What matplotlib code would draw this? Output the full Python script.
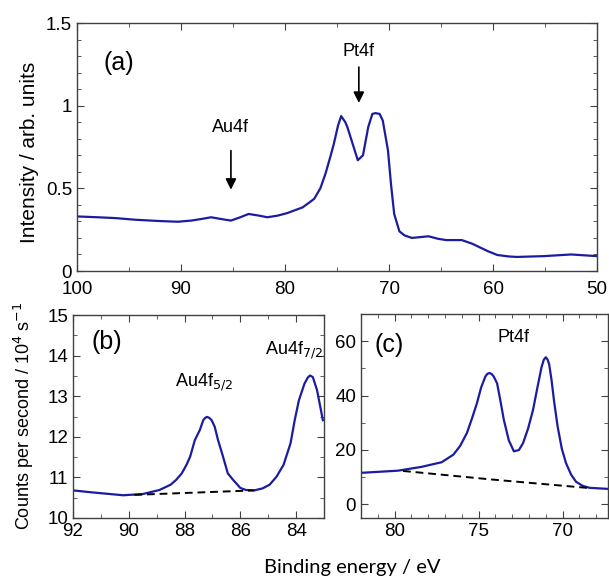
import matplotlib.pyplot as plt
import matplotlib
from matplotlib.ticker import MultipleLocator, FuncFormatter

matplotlib.rcParams.update({
    'font.family': ['Liberation Sans', 'DejaVu Sans'],
    'font.size': 13.5,
    'axes.linewidth': 1.0,
    'axes.edgecolor': '#404040',
    'xtick.direction': 'in',
    'ytick.direction': 'in',
    'xtick.top': True,
    'ytick.right': True,
    'xtick.major.size': 5,
    'ytick.major.size': 5,
    'xtick.minor.size': 3,
    'ytick.minor.size': 3,
    'xtick.color': '#404040',
    'ytick.color': '#404040',
    'xtick.labelcolor': 'black',
    'ytick.labelcolor': 'black',
})

# (a) survey spectrum
energy_a = [100, 98, 96.3, 94.4, 92, 90.3, 89, 88, 87.1, 86.2,
            85.2, 84.3, 83.5, 82.5, 81.7, 80.7, 79.8, 78.3, 77.2, 76.6,
            76.1, 75.6, 75.3, 74.9, 74.6, 74.2, 74.0, 73.4, 73.0, 72.5,
            72.0, 71.6, 71.3, 70.9, 70.6, 70.1, 69.8, 69.5, 69.0, 68.5,
            67.8, 67.0, 66.2, 65.3, 64.5, 63.0, 62.0, 61.5, 60.5, 59.6,
            58.5, 57.7, 55.1, 52.5, 50]
intensity_a = [0.33, 0.325, 0.32, 0.31, 0.302, 0.298, 0.305, 0.315, 0.325, 0.315,
               0.305, 0.325, 0.345, 0.335, 0.325, 0.335, 0.35, 0.385, 0.436, 0.5,
               0.59, 0.7, 0.77, 0.88, 0.937, 0.9, 0.87, 0.75, 0.67, 0.70,
               0.87, 0.95, 0.955, 0.95, 0.91, 0.73, 0.52, 0.345, 0.24, 0.215,
               0.20, 0.205, 0.21, 0.195, 0.187, 0.187, 0.165, 0.15, 0.12, 0.097,
               0.088, 0.085, 0.09, 0.10, 0.09]

# (b) Au4f region
energy_b = [92.0, 91.3, 90.2, 89.5, 88.9, 88.5, 88.3, 88.1, 87.93, 87.8,
            87.63, 87.45, 87.33, 87.27, 87.2, 87.12, 87.03, 86.92, 86.8, 86.62,
            86.45, 86.26, 86.0, 85.8, 85.5, 85.2, 84.95, 84.7, 84.45, 84.2,
            84.05, 83.9, 83.7, 83.58, 83.5, 83.4, 83.25, 83.04]
counts_b = [10.68, 10.63, 10.56, 10.59, 10.69, 10.82, 10.94, 11.1, 11.31, 11.51,
            11.92, 12.17, 12.41, 12.46, 12.49, 12.47, 12.41, 12.25, 11.92, 11.51,
            11.1, 10.94, 10.74, 10.69, 10.68, 10.73, 10.82, 11.02, 11.31, 11.84,
            12.41, 12.9, 13.31, 13.46, 13.51, 13.47, 13.15, 12.41]
bg_energy_b = [89.8, 85.5]
bg_counts_b = [10.57, 10.68]

# (c) Pt4f region
energy_c = [82.0, 79.8, 78.4, 77.2, 76.5, 76.1, 75.7, 75.4, 75.1, 74.85,
            74.6, 74.48, 74.35, 74.22, 74.1, 73.9, 73.7, 73.5, 73.2, 72.9,
            72.6, 72.35, 72.05, 71.76, 71.5, 71.25, 71.12, 71.0, 70.9, 70.8,
            70.66, 70.5, 70.3, 70.05, 69.8, 69.5, 69.2, 68.8, 68.4, 67.3]
counts_c = [11.6, 12.4, 13.8, 15.5, 18.3, 21.5, 26.2, 31.5, 37.2, 43.0,
            47.0, 48.0, 48.3, 47.9, 47.0, 44.5, 38.0, 31.1, 23.5, 19.5,
            20.0, 22.6, 28.0, 34.8, 43.0, 50.6, 53.2, 54.1, 53.3, 51.5,
            45.7, 37.5, 28.7, 20.5, 15.2, 11.0, 8.3, 6.8, 6.1, 5.7]
bg_energy_c = [79.5, 74.3, 68.4]
bg_counts_c = [12.3, 9.2, 6.0]

blue = '#1c1ca0'
W, H = 609, 580
fig = plt.figure(figsize=(W / 100, H / 100), dpi=100)


def box(l, t, r, b):
    return [l / W, 1 - b / H, (r - l) / W, (b - t) / H]


gfmt = FuncFormatter(lambda v, p: '%g' % v)
arrow = dict(arrowstyle='-|>', color='k', lw=1.2, mutation_scale=16)

# ---- (a)
ax = fig.add_axes(box(77, 23, 597, 271))
ax.plot(energy_a, intensity_a, color=blue, lw=1.6)
ax.set_xlim(100, 50)
ax.set_ylim(0, 1.5)
ax.xaxis.set_major_locator(MultipleLocator(10))
ax.xaxis.set_minor_locator(MultipleLocator(5))
ax.yaxis.set_major_locator(MultipleLocator(0.5))
ax.yaxis.set_minor_locator(MultipleLocator(0.1))
ax.yaxis.set_major_formatter(gfmt)
ax.tick_params(axis='x', which='major', pad=7)
ax.text(96.0, 1.26, '(a)', fontsize=18, ha='center', va='center')
ax.text(72.9, 1.33, 'Pt4f', fontsize=13, ha='center', va='center')
ax.annotate('', xy=(72.9, 1.0), xytext=(72.9, 1.25), arrowprops=arrow)
ax.text(85.2, 0.865, 'Au4f', fontsize=13, ha='center', va='center')
ax.annotate('', xy=(85.2, 0.475), xytext=(85.2, 0.745), arrowprops=arrow)

# ---- (b)
bx = fig.add_axes(box(73, 315, 324, 518))
bx.plot(energy_b, counts_b, color=blue, lw=1.6)
bx.plot(bg_energy_b, bg_counts_b, '--', color='k', lw=1.4, dashes=(4, 2.5))
bx.set_xlim(92, 83)
bx.set_ylim(10, 15)
bx.xaxis.set_major_locator(MultipleLocator(2))
bx.xaxis.set_minor_locator(MultipleLocator(1))
bx.yaxis.set_major_locator(MultipleLocator(1))
bx.yaxis.set_minor_locator(MultipleLocator(0.5))
bx.text(90.8, 14.33, '(b)', fontsize=18, ha='center', va='center')
bx.text(88.36, 13.35, 'Au4f$_{5/2}$', fontsize=13, ha='left', va='center')
bx.text(83.05, 14.14, 'Au4f$_{7/2}$', fontsize=13, ha='right', va='center')

# ---- (c)
cx = fig.add_axes(box(361, 314, 608, 518))
cx.plot(energy_c, counts_c, color=blue, lw=1.6)
cx.plot(bg_energy_c, bg_counts_c, '--', color='k', lw=1.4, dashes=(4, 2.5))
cx.set_xlim(82, 67.3)
cx.set_ylim(-5, 70)
cx.xaxis.set_major_locator(MultipleLocator(5))
cx.xaxis.set_minor_locator(MultipleLocator(1))
cx.yaxis.set_major_locator(MultipleLocator(20))
cx.yaxis.set_minor_locator(MultipleLocator(10))
cx.text(80.35, 58.5, '(c)', fontsize=18, ha='center', va='center')
cx.text(72.9, 61.4, 'Pt4f', fontsize=13, ha='center', va='center')

fig.text(30 / W, 1 - 152 / H, 'Intensity / arb. units', rotation=90,
         ha='center', va='center', fontsize=15)
fig.text(24 / W, 1 - 416 / H, 'Counts per second / 10$^4$ s$^{-1}$', rotation=90,
         ha='center', va='center', fontsize=13)
fig.text(352 / W, 1 - 568 / H, 'Binding energy / eV', ha='center', va='center',
         fontsize=14.5, family=['Lato', 'DejaVu Sans'])

fig.savefig('out.png', dpi=100)
